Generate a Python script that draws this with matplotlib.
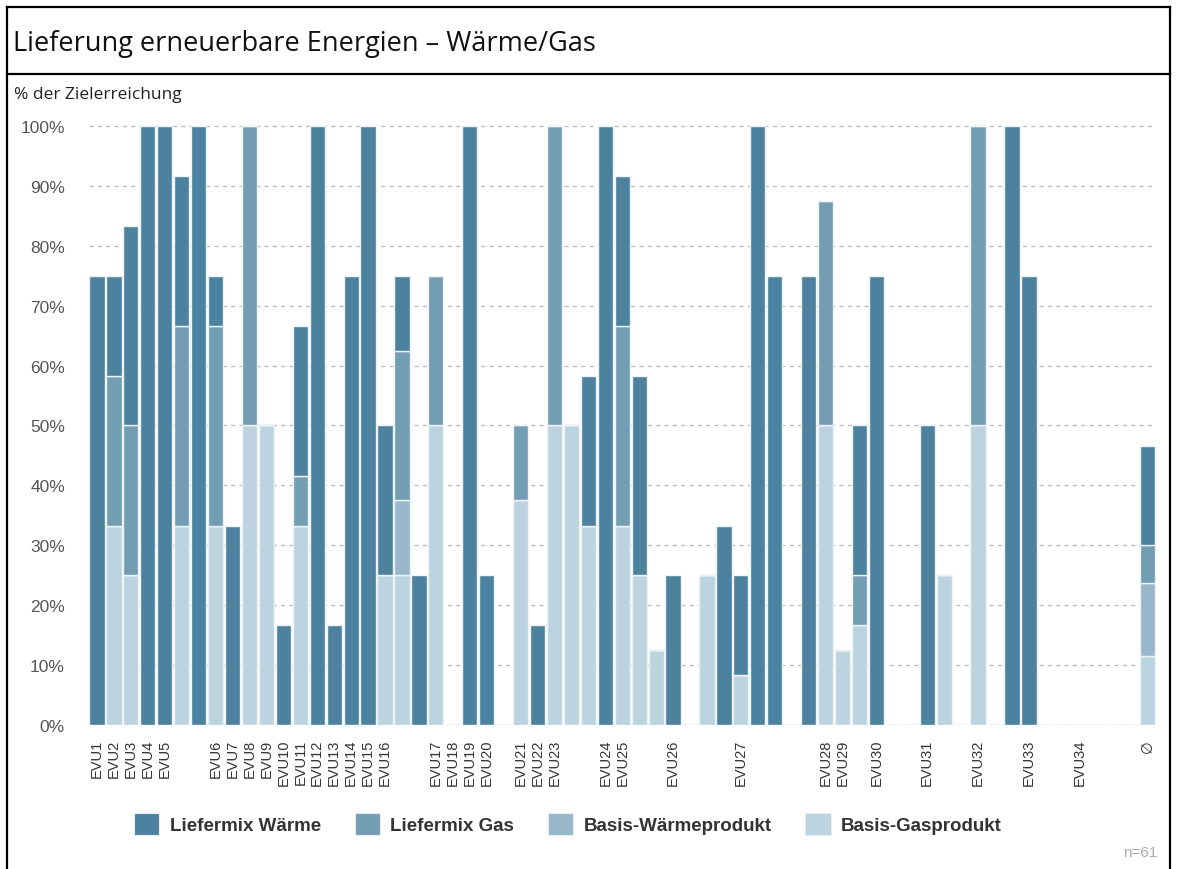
import matplotlib
matplotlib.use("Agg")
import matplotlib.pyplot as plt
from matplotlib.lines import Line2D
from matplotlib.patches import Patch
import numpy as np

# ---- data: share of target reached (%) per supplier product slot ----
labels = [
    "EVU1", "EVU2", "EVU3", "EVU4", "EVU5", "", "", "EVU6", "EVU7", "EVU8",
    "EVU9", "EVU10", "EVU11", "EVU12", "EVU13", "EVU14", "EVU15", "EVU16", "", "",
    "EVU17", "EVU18", "EVU19", "EVU20", "", "EVU21", "EVU22", "EVU23", "", "",
    "EVU24", "EVU25", "", "", "EVU26", "", "", "", "EVU27", "",
    "", "", "", "EVU28", "EVU29", "", "EVU30", "", "", "EVU31",
    "", "", "EVU32", "", "", "EVU33", "", "", "EVU34", "",
    "", "", "\u2205",
]

liefermix_waerme = [
    75, 16.7, 33.3, 100, 100, 25, 100, 8.3, 33.3, 0,
    0, 16.7, 25, 100, 16.7, 75, 100, 25, 12.5, 25,
    0, 0, 100, 25, 0, 0, 16.7, 0, 0, 25,
    100, 25, 33.3, 0, 25, 0, 0, 33.3, 16.7, 100,
    75, 0, 75, 0, 0, 25, 75, 0, 0, 50,
    0, 0, 0, 0, 100, 75, 0, 0, 0, 0,
    0, 0, 16.5,
]

liefermix_gas = [
    0, 25, 25, 0, 0, 33.3, 0, 33.3, 0, 50,
    0, 0, 8.3, 0, 0, 0, 0, 0, 25, 0,
    25, 0, 0, 0, 0, 12.5, 0, 50, 0, 0,
    0, 33.3, 0, 0, 0, 0, 0, 0, 0, 0,
    0, 0, 0, 37.5, 0, 8.3, 0, 0, 0, 0,
    0, 0, 50, 0, 0, 0, 0, 0, 0, 0,
    0, 0, 6.3,
]

basis_waerme = [
    0, 0, 0, 0, 0, 0, 0, 0, 0, 0,
    0, 0, 0, 0, 0, 0, 0, 0, 12.5, 0,
    0, 0, 0, 0, 0, 0, 0, 0, 0, 0,
    0, 0, 0, 0, 0, 0, 0, 0, 0, 0,
    0, 0, 0, 0, 0, 0, 0, 0, 0, 0,
    0, 0, 0, 0, 0, 0, 0, 0, 0, 0,
    0, 0, 12.2,
]

basis_gas = [
    0, 33.3, 25, 0, 0, 33.3, 0, 33.3, 0, 50,
    50, 0, 33.3, 0, 0, 0, 0, 25, 25, 0,
    50, 0, 0, 0, 0, 37.5, 0, 50, 50, 33.3,
    0, 33.3, 25, 12.5, 0, 0, 25, 0, 8.3, 0,
    0, 0, 0, 50, 12.5, 16.7, 0, 0, 0, 0,
    25, 0, 50, 0, 0, 0, 0, 0, 0, 0,
    0, 0, 11.5,
]

series_names = ["Liefermix Wärme", "Liefermix Gas", "Basis-Wärmeprodukt", "Basis-Gasprodukt"]
series_colors = ["#4d829e", "#739db3", "#98b8ca", "#bcd3e0"]

title = "Lieferung erneuerbare Energien \u2013 Wärme/Gas"
ylabel = "% der Zielerreichung"
n_note = "n=61"

SANS = ["Liberation Sans", "DejaVu Sans"]

# ---- figure ----
W, H = 1177, 870
fig = plt.figure(figsize=(W / 100, H / 100), dpi=100)
fig.patch.set_facecolor("white")


def fx(px):
    return px / W


def fy(py):
    return 1 - py / H


# frame and header divider
frame_kw = dict(color="black", linewidth=1.6, transform=fig.transFigure)
fig.add_artist(Line2D([fx(7), fx(1170)], [fy(8), fy(8)], **frame_kw))
fig.add_artist(Line2D([fx(7), fx(7)], [fy(8), 0], **frame_kw))
fig.add_artist(Line2D([fx(1170), fx(1170)], [fy(8), 0], **frame_kw))
fig.add_artist(Line2D([fx(7), fx(1170)], [fy(75), fy(75)], **frame_kw))

fig.text(fx(13), fy(44), title, fontsize=19.5, family="Open Sans",
         color="#111111", va="center", ha="left")
fig.text(fx(14), fy(95), ylabel, fontsize=12.5, family="Open Sans",
         color="#222222", va="center", ha="left")

# ---- axes ----
ax = fig.add_axes([fx(88.5), fy(726), fx(1156) - fx(88.5), fy(124) - fy(726)])
x = np.arange(len(labels))

stack = [basis_gas, basis_waerme, liefermix_gas, liefermix_waerme]
stack_colors = series_colors[::-1]
bottom = np.zeros(len(labels))
for vals, col in zip(stack, stack_colors):
    v = np.array(vals, dtype=float)
    ax.bar(x, v, bottom=bottom, width=0.9, color=col,
           edgecolor="#edf3f7", linewidth=1.0, zorder=3)
    bottom += v

ax.set_xlim(-0.5, len(labels) - 0.5)
ax.set_ylim(0, 100.5)
ax.set_yticks(np.arange(0, 101, 10))
ax.set_yticklabels([f"{v}%" for v in range(0, 101, 10)])
ax.set_xticks(x)
ax.set_xticklabels(labels, rotation=90)

for sp in ax.spines.values():
    sp.set_visible(False)

ax.yaxis.grid(True, linestyle=(0, (3, 3)), color="#bdbdbd", linewidth=1.0, zorder=0)
ax.set_axisbelow(True)
ax.tick_params(axis="y", length=0, pad=17, labelsize=12.5, labelcolor="#555555")
ax.tick_params(axis="x", length=0, pad=10, labelsize=10.5, labelcolor="#333333")
for t in ax.get_yticklabels() + ax.get_xticklabels():
    t.set_family(SANS)

# ---- legend ----
handles = [Patch(facecolor=c, edgecolor="#e6eef3", linewidth=0.8) for c in series_colors]
leg = fig.legend(handles, series_names, loc="center", ncol=4,
                 bbox_to_anchor=(fx(568), fy(825)), frameon=False,
                 handlelength=1.35, handleheight=1.35, handletextpad=0.55,
                 columnspacing=1.8,
                 prop={"family": SANS, "weight": "bold", "size": 13.5})
for t in leg.get_texts():
    t.set_color("#333333")

fig.text(fx(1157), fy(853), n_note, fontsize=11, family=SANS,
         color="#aaaaaa", ha="right", va="center")

fig.savefig("out.png", dpi=100, facecolor="white")
